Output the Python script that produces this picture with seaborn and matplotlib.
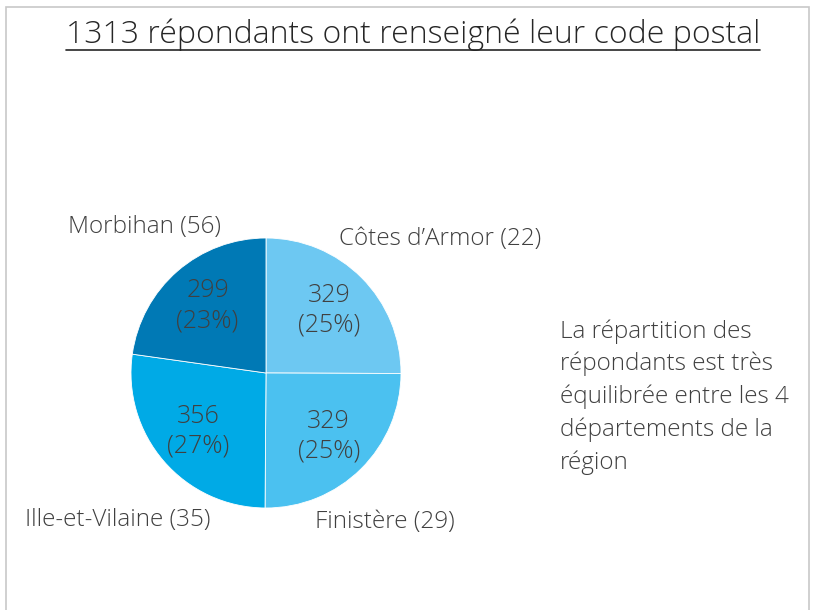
import matplotlib
matplotlib.use("Agg")
import matplotlib.pyplot as plt
import seaborn as sns
from matplotlib.lines import Line2D
from matplotlib.patches import Rectangle

sns.set_theme(style="white")
plt.rcParams['font.family'] = ['Open Sans', 'DejaVu Sans']

# data
departements = ["Côtes d’Armor", "Finistère", "Ille-et-Vilaine", "Morbihan"]
repondants = [329, 329, 356, 299]
communes = [22, 29, 35, 56]
colors = ["#6DC8F2", "#4BC1F0", "#00AAE6", "#0079B5"]
title = "1313 répondants ont renseigné leur code postal"
comment = ("La répartition des\nrépondants est très\néquilibrée entre les 4\n"
           "départements de la\nrégion")

# label positions in pie units (radius = 1)
label_pos = [(1.29, 0.99), (0.88, -1.10), (-1.10, -1.09), (-0.90, 1.08)]

text_color = "#404040"
W, H = 819, 610
fig = plt.figure(figsize=(W / 100, H / 100), dpi=100)

# pie centre (266, 373) px, radius 135 px
cx, cy, r = 266, 373, 135
ax = fig.add_axes([(cx - r) / W, (H - cy - r) / H, 2 * r / W, 2 * r / H])

total = sum(repondants)
wedges, texts, autotexts = ax.pie(
    repondants, colors=colors, startangle=90, counterclock=False,
    radius=1, pctdistance=0.66,
    autopct=lambda p: f"{round(p * total / 100)}\n({p:.0f}%)",
    wedgeprops=dict(edgecolor="white", linewidth=0.6),
    textprops=dict(color=text_color, fontsize=18, fontweight="light"),
)
for t in autotexts:
    t.set_linespacing(1.25)

for name, n, (x, y) in zip(departements, communes, label_pos):
    ax.text(x, y, f"{name} ({n})", ha="center", va="center",
            fontsize=17.5, color=text_color, fontweight="light", clip_on=False)

ax.set_xlim(-1, 1)
ax.set_ylim(-1, 1)
ax.set_aspect("equal")
ax.axis("off")

# title with underline
t = fig.text(413 / W, 1 - 35 / H, title, ha="center", va="center",
             fontsize=23, color="#262626", fontweight="light")
fig.canvas.draw()
bb = t.get_window_extent().transformed(fig.transFigure.inverted())
fig.add_artist(Line2D([bb.x0, bb.x1], [1 - 50 / H, 1 - 50 / H],
                      transform=fig.transFigure, color="#262626", linewidth=1.2))

# comment on the right
fig.text(560 / W, 1 - 319 / H, comment, ha="left", va="top", fontsize=17.5,
         color=text_color, fontweight="light", linespacing=1.45)

# frame
fig.add_artist(Rectangle((6 / W, -0.05), (809 - 6) / W, 1.05 - 7 / H,
                         transform=fig.transFigure, fill=False,
                         edgecolor="#c8c8c8", linewidth=1.2))

fig.savefig("out.png", dpi=100)
